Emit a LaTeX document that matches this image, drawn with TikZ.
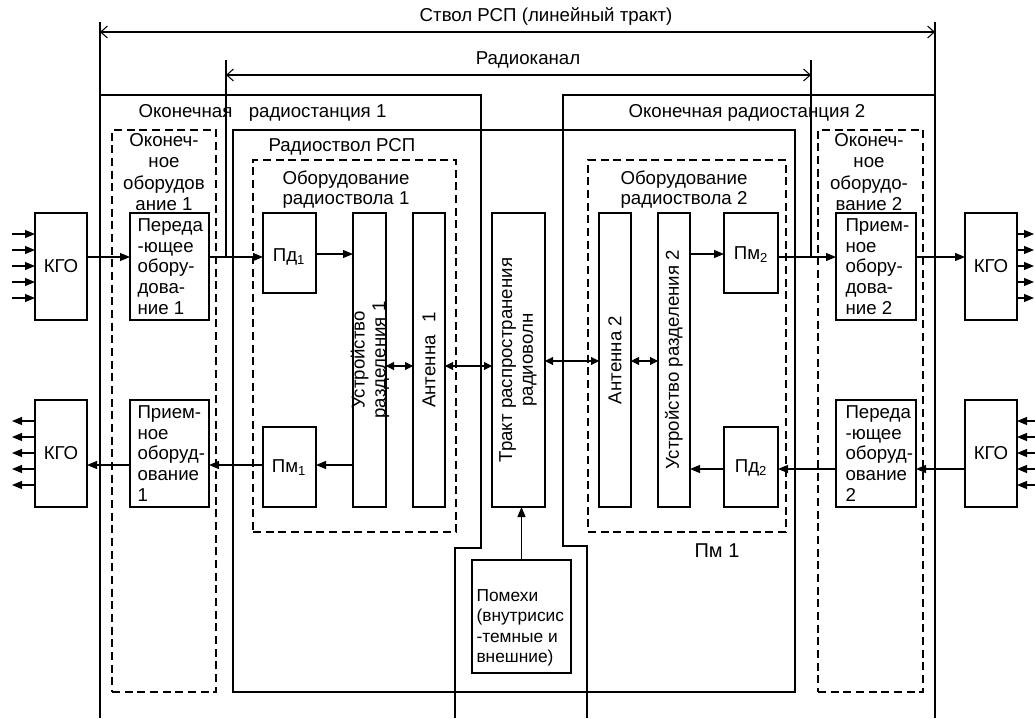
\documentclass[tikz,border=0pt]{standalone}
\usepackage{fontspec}
\setmainfont{Liberation Sans}
\usetikzlibrary{arrows.meta,fit}

% a plain rectangle given by two corners (pixel grid, y downwards)
\newcommand\boxnode[6][]{\node[frame,#1,fit={(#3,#4)(#5,#6)}] (#2) {};}

\tikzset{
  frame/.style={draw, inner sep=0pt, outer sep=0pt},
  dframe/.style={frame, dash pattern=on 6pt off 3.5pt},
  sig/.style={-{Triangle[length=7.5pt,width=6pt]}},
  dsig/.style={{Triangle[length=6pt,width=6pt]}-{Triangle[length=6pt,width=6pt]}},
  span/.style={{Straight Barb[length=5pt,width=9pt]}-{Straight Barb[length=5pt,width=9pt]}},
  txt/.style={inner sep=0pt, align=center},
  ltxt/.style={inner sep=0pt, align=left, anchor=north west},
}

\begin{document}
\begin{tikzpicture}[x=0.75pt, y=-0.75pt, line width=0.8pt,
  font=\fontsize{14pt}{15.5pt}\selectfont]
\useasboundingbox (0,0) rectangle (1035,718);

% ---- overall trunk span and radio channel span
\coordinate (trunkL) at (100,32);
\coordinate (trunkR) at (935,32);
\coordinate (trunkLt) at (100,22);
\coordinate (trunkRt) at (935,22);
\coordinate (trunkLb) at (100,718);
\coordinate (trunkRb) at (935,718);
\draw (trunkLt) -- (trunkLb);
\draw (trunkRt) -- (trunkRb);
\draw[span] (trunkL) -- (trunkR);
\node[txt] (trunkT) at (546,17) {Ствол РСП (линейный тракт)};

\coordinate (chL) at (226,75);
\coordinate (chR) at (811,75);
\coordinate (chLt) at (226,60);
\coordinate (chRt) at (811,60);
\node[txt] (chanT) at (528,60) {Радиоканал};

% ---- terminal stations
\draw (100,95) -- (481,95) -- (481,548) -- (455,548) -- (455,718);
\draw (935,95) -- (563,95) -- (563,546) -- (587,546) -- (587,718);
\node[anchor=west, inner sep=0pt] (st1T) at (138,113) {Оконечная\hspace{0.6em} радиостанция 1};
\node[anchor=west, inner sep=0pt] (st2T) at (628,113) {Оконечная радиостанция 2};

% ---- radio trunk frame
\boxnode{rs}{233}{130}{795}{692}
\node[anchor=west, inner sep=0pt] (rsT) at (268,147) {Радиоствол РСП};

% ---- dashed groups
\boxnode[dframe]{te1}{112}{130}{216}{692}
\boxnode[dframe]{te2}{818}{130}{923}{692}
\boxnode[dframe]{re1}{253}{160}{456}{532}
\boxnode[dframe]{re2}{588}{160}{786}{532}
\node[txt, anchor=north, font=\fontsize{14pt}{16pt}\selectfont] (te1T) at (164,133) {Оконеч-\\ное\\оборудов\\ание 1};
\node[txt, anchor=north, font=\fontsize{14pt}{16pt}\selectfont] (te2T) at (869,133) {Оконеч-\\ное\\оборудо-\\вание 2};
\node[txt, anchor=north] (re1T) at (346,170) {Оборудование\\радиоствола 1};
\node[txt, anchor=north] (re2T) at (684,170) {Оборудование\\радиоствола 2};

% ---- blocks
\boxnode{kgoA}{35}{213}{87}{320}
\boxnode{kgoB}{35}{400}{87}{507}
\boxnode{kgoC}{965}{213}{1017}{320}
\boxnode{kgoD}{965}{400}{1017}{507}
\node[txt] (kgoAT) at (kgoA) {КГО};
\node[txt] (kgoBT) at (kgoB) {КГО};
\node[txt] (kgoCT) at (kgoC) {КГО};
\node[txt] (kgoDT) at (kgoD) {КГО};

\boxnode{tx1}{130}{213}{209}{320}
\boxnode{rx1}{130}{400}{209}{507}
\boxnode{rx2}{836}{213}{916}{320}
\boxnode{tx2}{836}{400}{916}{507}
\node[ltxt] (tx1T) at (137,218) {Переда\\-ющее\\обору-\\дова-\\ние 1};
\node[ltxt] (rx1T) at (137,405) {Прием-\\ное\\оборуд-\\ование\\1};
\node[ltxt] (rx2T) at (845,218) {Прием-\\ное\\обору-\\дова-\\ние 2};
\node[ltxt] (tx2T) at (845,405) {Переда\\-ющее\\оборуд-\\ование\\2};

\boxnode{pd1}{263}{213}{316}{293}
\boxnode{pm1}{263}{427}{316}{507}
\boxnode{pm2}{724}{213}{778}{293}
\boxnode{pd2}{724}{427}{778}{507}
\node[txt] (pd1T) at (289,257) {Пд\textsubscript{1}};
\node[txt] (pm1T) at (289,468) {Пм\textsubscript{1}};
\node[txt] (pm2T) at (751,255) {Пм\textsubscript{2}};
\node[txt] (pd2T) at (751,468) {Пд\textsubscript{2}};

\boxnode{sep1}{353}{213}{386}{507}
\boxnode{ant1}{413}{213}{445}{507}
\boxnode{prop}{492}{213}{545}{507}
\boxnode{ant2}{599}{213}{631}{507}
\boxnode{sep2}{658}{213}{690}{507}
\node[txt, rotate=90] (sep1T) at (370,360) {Устройство\\разделения 1};
\node[txt, rotate=90] (ant1T) at (429,360) {Антенна\hspace{0.4em} 1};
\node[txt, rotate=90] (propT) at (518,360) {Тракт распространения\\радиоволн};
\node[txt, rotate=90] (ant2T) at (615,360) {Антенна 2};
\node[txt, rotate=90] (sep2T) at (674,360) {Устройство разделения 2};

\boxnode{noise}{472}{560}{571}{673}
\node[ltxt, font=\fontsize{13pt}{15.3pt}\selectfont] (noiseT) at (476,589) {Помехи\\(внутрисис\\-темные и\\внешние)};
\node[txt, font=\fontsize{15pt}{16pt}\selectfont] (pmlabel) at (717,551) {Пм 1};

% ---- rows of the signal lines
\coordinate (r1) at (0,257);
\coordinate (r2) at (0,254);
\coordinate (r3) at (0,465);
\coordinate (r4) at (0,469);
\coordinate (r5) at (0,366);
\coordinate (r6) at (0,361);

% radio channel span (its ends stand on the signal lines)
\draw (chLt) -- (chLt |- r1);
\draw (chRt) -- (chRt |- r1);
\draw[span] (chL) -- (chR);

% transmit direction 1 -> 2
\draw[sig] (kgoA.east |- r1) -- (tx1.west |- r1);
\draw[sig] (tx1.east |- r1) -- (pd1.west |- r1);
\draw[sig] (pd1.east |- r2) -- (sep1.west |- r2);
\draw[sig] (sep2.east |- r2) -- (pm2.west |- r2);
\draw[sig] (pm2.east |- r1) -- (rx2.west |- r1);
\draw[sig] (rx2.east |- r1) -- (kgoC.west |- r1);

% transmit direction 2 -> 1
\draw[sig] (kgoD.west |- r4) -- (tx2.east |- r4);
\draw[sig] (tx2.west |- r4) -- (pd2.east |- r4);
\draw[sig] (pd2.west |- r4) -- (sep2.east |- r4);
\draw[sig] (sep1.west |- r3) -- (pm1.east |- r3);
\draw[sig] (pm1.west |- r3) -- (rx1.east |- r3);
\draw[sig] (rx1.west |- r3) -- (kgoB.east |- r3);

% antenna feeders and the radio path
\draw[dsig] (sep1.east |- r5) -- (ant1.west |- r5);
\draw[dsig] (ant1.east |- r5) -- (prop.west |- r5);
\draw[dsig] (prop.east |- r6) -- (ant2.west |- r6);
\draw[dsig] (ant2.east |- r6) -- (sep2.west |- r6);

% interference
\draw[sig] (noise.north) -- (noise.north |- prop.south);

% tributary channels of the group equipment
\foreach \y [count=\i] in {234,250,266,282,298} {
  \coordinate (inA\i) at (12,\y);
  \coordinate (outC\i) at (1034,\y);
  \draw[sig] (inA\i) -- (kgoA.west |- inA\i);
  \draw[sig] (kgoC.east |- outC\i) -- (outC\i);
}
\foreach \y [count=\i] in {421,437,453,469,485} {
  \coordinate (outB\i) at (12,\y);
  \coordinate (inD\i) at (1035,\y);
  \draw[sig] (kgoB.west |- outB\i) -- (outB\i);
  \draw[sig] (inD\i) -- (kgoD.east |- inD\i);
}
\end{tikzpicture}
\end{document}
